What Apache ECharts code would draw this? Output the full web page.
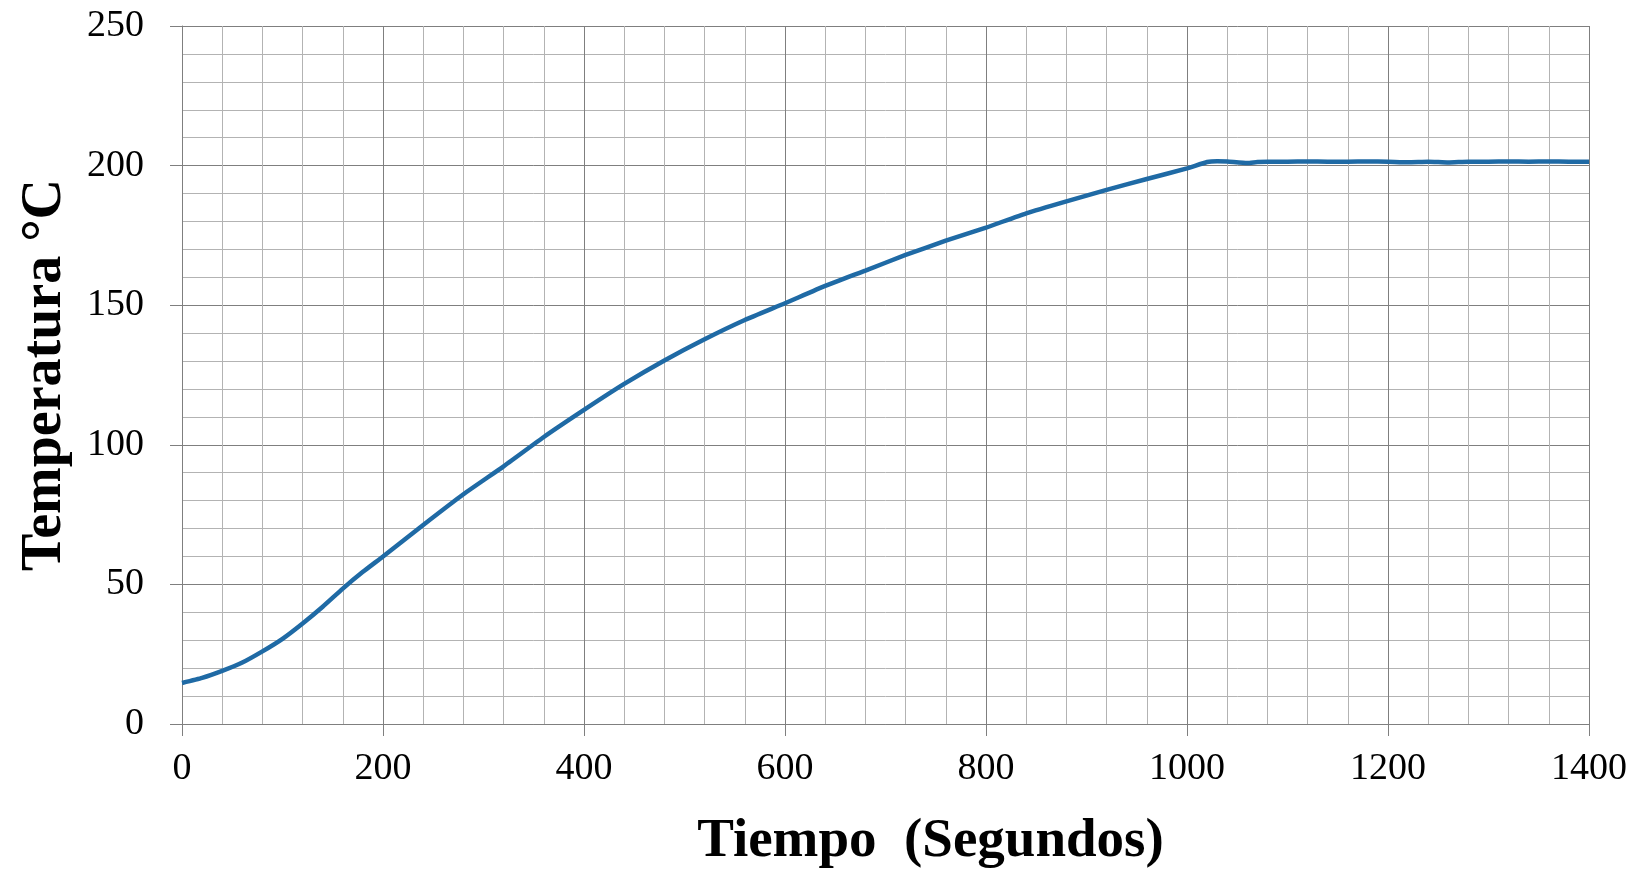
<!DOCTYPE html>
<html>
<head>
<meta charset="utf-8">
<script src="https://cdn.jsdelivr.net/npm/echarts@6/dist/echarts.min.js"></script>
<style>html,body{margin:0;padding:0;background:#fff;}#chart{width:1639px;height:874px;}</style>
</head>
<body>
<div id="chart"></div>
<script>
const times = [0,20,40,60,80,100,120,140,160,180,200,240,280,320,360,400,440,480,520,560,600,640,680,720,760,800,840,880,920,960,1000,1020,1030,1040,1060,1070,1080,1100,1120,1140,1160,1180,1200,1220,1240,1260,1280,1300,1320,1340,1360,1380,1400];
const temps = [14.7,16.5,19,22,26,30.5,36,42,48.5,54.5,60,71.3,82.3,92.3,102.8,112.5,121.8,130.2,137.8,144.7,150.7,156.9,162.4,168,173.1,177.8,182.9,187.2,191.3,195.2,199,201.3,201.6,201.5,200.9,201.3,201.4,201.4,201.5,201.4,201.4,201.5,201.4,201.2,201.4,201.1,201.4,201.4,201.5,201.4,201.5,201.4,201.4];
const xTicks = {min:0, max:1400, interval:200};
const yTicks = {min:0, max:250, interval:50};
const xTitle = 'Tiempo  (Segundos)';
const yTitle = 'Temperatura °C';

const font = '"Liberation Serif", "Times New Roman", serif';
const chart = echarts.init(document.getElementById('chart'));
chart.setOption({
  backgroundColor:'#fff',
  animation:false,
  grid:{left:182, right:50, top:26, bottom:150, containLabel:false},
  xAxis:{
    type:'value', min:xTicks.min, max:xTicks.max, interval:xTicks.interval,
    name:xTitle, nameLocation:'middle', nameGap:90,
    nameTextStyle:{fontFamily:font, fontSize:55, fontWeight:'bold', color:'#000', padding:[0,0,0,90]},
    axisLine:{show:true, lineStyle:{color:'#7f7f7f', width:1}},
    axisTick:{show:true, length:12, lineStyle:{color:'#7f7f7f'}},
    minorTick:{show:true, splitNumber:5, length:0},
    minorSplitLine:{show:true, lineStyle:{color:'#b3b3b3', width:1}},
    splitLine:{show:true, lineStyle:{color:'#7f7f7f', width:1}},
    axisLabel:{fontFamily:font, fontSize:38, color:'#000', margin:26, formatter:v=>String(v)}
  },
  yAxis:{
    type:'value', min:yTicks.min, max:yTicks.max, interval:yTicks.interval,
    name:yTitle, nameLocation:'middle', nameGap:108, nameRotate:90,
    nameTextStyle:{fontFamily:font, fontSize:56, fontWeight:'bold', color:'#000'},
    axisLine:{show:true, lineStyle:{color:'#7f7f7f', width:1}},
    axisTick:{show:true, length:12, lineStyle:{color:'#7f7f7f'}},
    minorTick:{show:true, splitNumber:5, length:0},
    minorSplitLine:{show:true, lineStyle:{color:'#b3b3b3', width:1}},
    splitLine:{show:true, lineStyle:{color:'#7f7f7f', width:1}},
    axisLabel:{fontFamily:font, fontSize:38, color:'#000', margin:38, formatter:v=>String(v)}
  },
  series:[{
    type:'line', data:times.map((t,i)=>[t,temps[i]]),
    showSymbol:false, smooth:0.15,
    lineStyle:{color:'#1f6aa5', width:4.5}
  }]
});
</script>
</body>
</html>
